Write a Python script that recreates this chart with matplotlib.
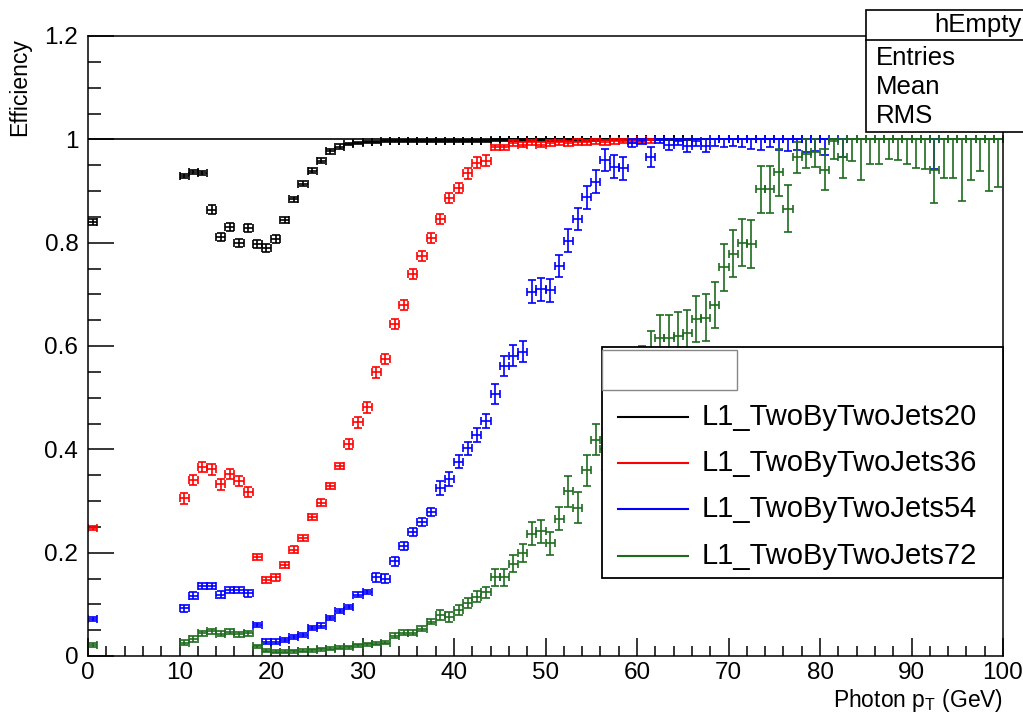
import numpy as np
import matplotlib.pyplot as plt
from matplotlib.patches import Rectangle
from matplotlib.lines import Line2D
from matplotlib.ticker import MultipleLocator, FuncFormatter

plt.rcParams['font.family'] = ['Liberation Sans', 'DejaVu Sans']
plt.rcParams['mathtext.fontset'] = 'custom'
plt.rcParams['mathtext.rm'] = 'Liberation Sans'
plt.rcParams['mathtext.it'] = 'Liberation Sans:italic'

# bin centres (1 GeV bins; bins 1-9 are empty)
black_x = np.r_[0.5, np.arange(10.5, 66)]
red_x = np.r_[0.5, np.arange(10.5, 62)]
blue_x = np.r_[0.5, np.arange(10.5, 81), 82.5, 92.5]
green_x = np.r_[0.5, np.arange(10.5, 100)]

black_y = [0.840,
           0.929, 0.937, 0.935, 0.864, 0.811, 0.831, 0.800, 0.829, 0.797, 0.789,
           0.807, 0.844, 0.884, 0.914, 0.939, 0.959, 0.977, 0.986, 0.991, 0.993,
           0.995, 0.995, 0.996, 0.996, 0.996, 0.996, 0.997, 0.997, 0.996, 0.997,
           0.997, 0.997, 0.997, 0.997, 0.998, 0.998, 0.998, 0.998, 0.998, 0.999,
           0.999, 0.999, 0.999, 0.999, 0.999, 0.999, 1.000, 1.000, 1.000, 1.000,
           1.000, 1.000, 1.000, 1.000, 1.000, 1.000]
black_err = [0.006] + [0.004] * 3 + [0.008] * 8 + [0.005] * 7 + [0.002] * 38

red_y = [0.247,
         0.305, 0.341, 0.366, 0.361, 0.332, 0.352, 0.339, 0.317, 0.192, 0.147,
         0.152, 0.176, 0.206, 0.228, 0.269, 0.297, 0.329, 0.368, 0.410, 0.452,
         0.481, 0.549, 0.575, 0.643, 0.679, 0.739, 0.774, 0.809, 0.846, 0.887,
         0.906, 0.934, 0.955, 0.959, 0.985, 0.985, 0.993, 0.990, 0.994, 0.990,
         0.993, 0.994, 0.992, 0.995, 0.994, 0.996, 0.994, 0.996, 0.997, 0.997,
         0.998, 0.998]
red_err = [0.004] + [0.010] * 8 + [0.006] * 10 + [0.010] * 16 + [0.005] * 18

blue_y = [0.072,
          0.092, 0.117, 0.135, 0.135, 0.119, 0.127, 0.127, 0.121, 0.060, 0.028,
          0.028, 0.031, 0.036, 0.040, 0.054, 0.059, 0.073, 0.087, 0.095, 0.119,
          0.124, 0.152, 0.150, 0.183, 0.213, 0.240, 0.259, 0.279, 0.325, 0.343,
          0.376, 0.402, 0.428, 0.455, 0.507, 0.561, 0.581, 0.589, 0.705, 0.710,
          0.708, 0.755, 0.804, 0.846, 0.888, 0.918, 0.960, 0.947, 0.944, 0.993,
          0.997, 0.966, 0.998, 0.990, 0.997, 0.988, 0.997, 0.988, 1.000, 1.000,
          1.000, 1.000, 1.000, 1.000, 1.000, 1.000, 1.000, 1.000, 1.000, 1.000,
          1.000,
          1.000, 1.000]
blue_err = ([0.004] + [0.006] * 8 + [0.004] * 13 + [0.008] * 7 + [0.013] * 6
            + [0.020] * 4 + [0.022] * 11
            + [0.008, 0.006, 0.020, 0.006, 0.010, 0.008, 0.012, 0.010, 0.012, 0.012, 0.015,
               0.012, 0.015, 0.018, 0.020, 0.015, 0.020, 0.022, 0.020, 0.025, 0.022, 0.030]
            + [0.035, 0.058])

green_y = [0.021,
           0.026, 0.033, 0.044, 0.048, 0.043, 0.047, 0.042, 0.044, 0.019, 0.010,
           0.008, 0.008, 0.009, 0.010, 0.011, 0.013, 0.014, 0.016, 0.017, 0.021,
           0.023, 0.024, 0.026, 0.039, 0.045, 0.045, 0.053, 0.066, 0.079, 0.075,
           0.089, 0.102, 0.115, 0.123, 0.152, 0.152, 0.179, 0.199, 0.237, 0.241,
           0.218, 0.266, 0.319, 0.287, 0.360, 0.419, 0.400, 0.460, 0.500, 0.530,
           0.560, 0.590, 0.615, 0.615, 0.620, 0.625, 0.652, 0.655, 0.679, 0.752,
           0.779, 0.800, 0.797, 0.903, 0.903, 0.936, 0.866, 0.965, 0.972, 0.976,
           0.941, 0.997, 0.965, 1.000, 1.000, 1.000, 1.000, 1.000, 1.000, 1.000,
           1.000, 1.000, 0.940, 1.000, 1.000, 1.000, 1.000, 1.000, 1.000, 1.000]
green_err = ([0.004] + [0.005] * 8 + [0.003] * 15 + [0.005] * 5 + [0.010] * 6
             + [0.017] * 4 + [0.022] * 4 + [0.030] * 4 + [0.040] * 6 + [0.045] * 7
             + [0.046] * 8 + [0.030, 0.028, 0.030, 0.040, 0.035, 0.040]
             + [0.041, 0.078, 0.047, 0.047, 0.039, 0.040, 0.047, 0.056, 0.058, 0.064,
                0.074, 0.074, 0.119, 0.078, 0.061, 0.100, 0.092])

labels = ["L1_TwoByTwoJets20", "L1_TwoByTwoJets36", "L1_TwoByTwoJets54", "L1_TwoByTwoJets72"]
colors = ["black", "#ff0000", "#0000ff", "#1e6b1e"]

W, H = 1023, 715


def fx(px):
    return px / W


def fy(py):
    return 1 - py / H


fig = plt.figure(figsize=(10.23, 7.15), dpi=100)
ax = fig.add_axes([fx(88), fy(656), (1003 - 88) / W, (656 - 36) / H])

series = [(black_x, black_y, black_err), (red_x, red_y, red_err),
          (blue_x, blue_y, blue_err), (green_x, green_y, green_err)]
for (x, y, err), c in zip(series, colors):
    y = np.asarray(y)
    err = np.asarray(err)
    hi = np.minimum(err, 1 - y)
    ax.errorbar(x, y, xerr=0.5, yerr=[err, hi], fmt='none', ecolor=c,
                elinewidth=1.2, capsize=2.8, capthick=1.2)

ax.axhline(1.0, color='black', lw=1.2, zorder=1)

ax.set_xlim(0, 100)
ax.set_ylim(0, 1.2)
ax.xaxis.set_major_locator(MultipleLocator(10))
ax.xaxis.set_minor_locator(MultipleLocator(2))
ax.yaxis.set_major_locator(MultipleLocator(0.2))
ax.yaxis.set_minor_locator(MultipleLocator(0.05))
ax.yaxis.set_major_formatter(FuncFormatter(lambda v, p: f"{v:g}"))
ax.tick_params(which='both', direction='in', top=False, right=False, width=1.1, labelsize=17.5)
ax.tick_params(axis='x', which='major', length=13, pad=4.5)
ax.tick_params(axis='x', which='minor', length=7)
ax.tick_params(axis='y', which='major', length=19, pad=7)
ax.tick_params(axis='y', which='minor', length=9.5)
for s in ax.spines.values():
    s.set_linewidth(1.1)

fig.text(fx(1003), fy(707), r'Photon p$_{\mathrm{T}}$ (GeV)', ha='right', va='baseline', fontsize=16.5)
fig.text(fx(20), fy(38), 'Efficiency', rotation=90, ha='center', va='top', fontsize=16.5)

# stats box
fig.add_artist(Rectangle((fx(866), fy(132)), fx(1040) - fx(866), fy(10) - fy(132),
                         transform=fig.transFigure, facecolor='white', edgecolor='black',
                         lw=1.2, zorder=5))
fig.add_artist(Line2D([fx(866), fx(1023)], [fy(40), fy(40)], transform=fig.transFigure,
                      color='black', lw=1.2, zorder=6))
fig.text(fx(1021), fy(25), 'hEmpty', ha='right', va='center', fontsize=18.5, zorder=7)
for t, py in zip(['Entries', 'Mean', 'RMS'], [58, 87, 116]):
    fig.text(fx(876), fy(py), t, ha='left', va='center', fontsize=18.5, zorder=7)

# legend
fig.add_artist(Rectangle((fx(602), fy(578)), fx(1003) - fx(602), fy(347) - fy(578),
                         transform=fig.transFigure, facecolor='white', edgecolor='black',
                         lw=1.3, zorder=5))
fig.add_artist(Rectangle((fx(602), fy(390)), fx(737) - fx(602), fy(350) - fy(390),
                         transform=fig.transFigure, facecolor='white', edgecolor='#888888',
                         lw=1.0, zorder=6))
for lab, c, py in zip(labels, colors, [417, 463, 509, 556]):
    fig.add_artist(Line2D([fx(618), fx(688)], [fy(py), fy(py)], transform=fig.transFigure,
                          color=c, lw=1.5, zorder=6))
    fig.text(fx(702), fy(py), lab, ha='left', va='center', fontsize=21, zorder=7)

fig.savefig('out.png', dpi=100, facecolor='white')
